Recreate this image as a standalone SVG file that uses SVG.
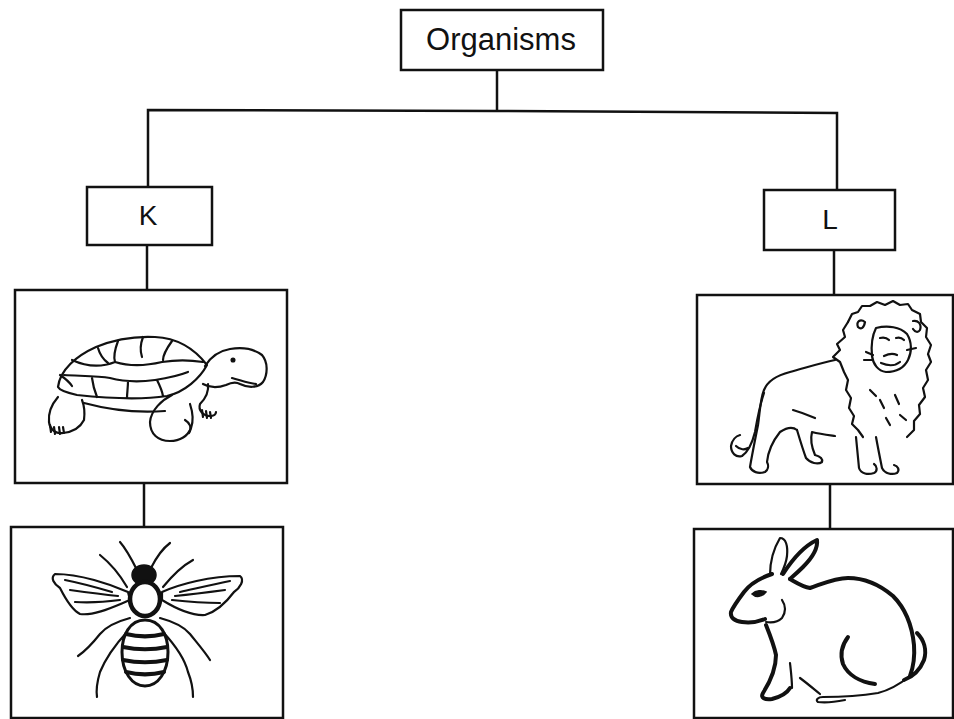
<svg xmlns="http://www.w3.org/2000/svg" width="954" height="719" viewBox="0 0 954 719">
<style>
.box{fill:#fff;stroke:#111;stroke-width:2.5}
.lbl{font-family:"Liberation Sans",Arial,sans-serif;fill:#111;text-anchor:middle}
.con{fill:none;stroke:#111;stroke-width:2.5}
.art{fill:none;stroke:#111;stroke-width:2.2;stroke-linejoin:round;stroke-linecap:round}
.thick{fill:none;stroke:#111;stroke-width:4;stroke-linejoin:round;stroke-linecap:round}
.dark{fill:#111;stroke:#111;stroke-width:1.5}
</style>
<rect width="954" height="719" fill="#fff"/>
<g id="connectors">
<polyline class="con" points="497,70 497,111"/>
<polyline class="con" points="148,187 148,110 497,111 837,113 837,190"/>
<line class="con" x1="147" y1="245" x2="147" y2="290"/>
<line class="con" x1="144" y1="483" x2="144" y2="527"/>
<line class="con" x1="834" y1="250" x2="834" y2="295"/>
<line class="con" x1="830" y1="484" x2="830" y2="529"/>
</g>
<g id="organisms">
<rect class="box" x="401" y="10" width="202" height="60"/>
<text class="lbl" x="501" y="50" font-size="31">Organisms</text>
</g>
<g id="k">
<rect class="box" x="87" y="187" width="125" height="58"/>
<text class="lbl" x="148" y="225" font-size="28">K</text>
</g>
<g id="l">
<rect class="box" x="764" y="190" width="131" height="60"/>
<text class="lbl" x="830" y="229" font-size="28">L</text>
</g>
<g id="tortoise">
<rect class="box" x="15" y="290" width="272" height="193"/>
<path class="art" d="M58,387 C60,370 76,356 96,347 C113,340 135,336 155,337 C176,338 194,348 207,365 C200,378 185,392 167,396 C140,400 105,398 77,395 C68,393 60,391 58,387 Z"/>
<path class="art" d="M72,360 C85,366 100,368 115,362 M98,348 C100,355 104,360 108,363 M118,341 C115,349 113,356 115,362 M143,337 C140,345 140,351 142,357 M172,341 C167,348 163,354 163,360 M115,362 C128,366 145,366 162,362 C175,360 190,360 203,362 M64,375 C80,376 98,376 110,378 M110,378 C125,382 140,382 155,380 C168,378 178,376 188,372 M92,378 C93,386 95,392 97,397 M128,381 C128,388 127,393 127,398 M157,380 C160,386 162,390 163,396 M60,375 C66,379 70,383 72,386"/>
<path class="art" d="M205,366 C210,358 218,351 230,349 C242,347 254,349 262,355 C268,362 268,374 263,382 C258,388 248,388 240,384 C235,381 230,383 226,385 C218,388 210,388 203,384"/>
<path class="art" d="M232,378 C240,380 248,383 256,384"/>
<circle class="dark" cx="233" cy="360" r="1.8"/>
<path class="art" d="M58,397 C52,404 48,412 49,422 C50,430 56,434 63,433 C72,432 80,428 84,420 C85,412 84,405 82,400"/>
<path class="art" d="M50,425 L51,432 M54,427 L55,434 M59,427 L60,434 M63,427 L64,433"/>
<path class="art" d="M84,403 C110,410 140,413 165,411"/>
<path class="art" d="M172,395 C162,400 151,410 150,422 C150,434 158,441 170,441 C180,441 188,436 191,428 C194,420 192,410 190,404"/>
<path class="art" d="M185,420 C190,423 192,428 189,433"/>
<path class="art" d="M208,384 C209,392 206,398 200,404 C198,410 203,416 210,416 C214,416 216,414 216,412"/>
<path class="art" d="M202,410 L203,417 M206,411 L207,418 M210,412 L211,418"/>
</g>
<g id="bee">
<rect class="box" x="11" y="527" width="272" height="191"/>
<path class="art" d="M137,570 C132,560 127,550 120,542 M151,568 C156,558 162,549 170,543"/>
<path class="art" d="M127,587 C120,575 110,563 100,555 M163,587 C172,576 182,566 193,560"/>
<path class="art" d="M128,592 C110,584 80,574 55,574 C50,578 54,584 60,588 C66,600 72,610 80,614 C95,616 115,606 130,600 Z"/>
<path class="art" d="M70,590 C85,592 100,594 118,596 M75,602 C90,603 105,602 120,600 M65,580 C80,583 95,587 112,592"/>
<path class="art" d="M162,592 C180,584 210,576 240,576 C245,580 240,588 234,592 C225,604 215,612 205,615 C190,616 175,608 162,600 Z"/>
<path class="art" d="M225,590 C210,592 195,594 175,596 M220,603 C205,603 190,602 172,600 M230,581 C215,584 198,588 180,592"/>
<ellipse class="dark" cx="144" cy="575" rx="12" ry="10"/>
<ellipse cx="145" cy="599" rx="15" ry="17" fill="#fff" stroke="#111" stroke-width="4.5"/>
<path class="art" d="M130,618 C115,622 105,628 100,634 C92,644 84,652 78,656 M160,618 C175,622 185,628 190,634 C198,644 205,652 210,660"/>
<path class="art" d="M127,632 C115,645 105,660 100,672 C97,682 96,690 97,697 M163,632 C175,645 185,660 188,672 C192,682 193,690 193,697"/>
<path d="M145,620 C160,620 168,635 168,652 C168,672 158,686 145,686 C132,686 122,672 122,652 C122,635 130,620 145,620 Z" fill="#fff" stroke="#111" stroke-width="3"/>
<path class="thick" d="M126,634 C138,637 152,637 164,634 M123,647 C137,650 153,650 167,647 M123,660 C137,663 153,663 167,660 M126,672 C138,675 152,675 164,672"/>
</g>
<g id="lion">
<rect class="box" x="697" y="295" width="256" height="189"/>
<path class="art" d="M848,322 L852,314 L858,312 L862,306 L870,306 L877,302 L885,305 L893,301 L900,305 L908,304 L912,310 L920,314 L921,322 L927,328 L926,337 L931,345 L928,354 L931,362 L926,370 L928,380 L923,388 L925,397 L919,405 L920,414 L914,421 L914,430 L907,437"/>
<path class="art" d="M848,322 L843,330 L845,337 L837,344 L840,350 L833,357 L840,362 L844,372 L848,380 L846,390 L851,398 L849,408 L854,416 L852,424 L858,430 L863,437"/>
<path class="art" d="M865,322 C860,318 856,322 858,327 C861,330 864,328 865,322 M913,321 C918,320 922,324 920,330 C918,333 915,332 913,329"/>
<path class="art" d="M876,328 C888,325 900,327 907,334 C912,342 912,352 908,360 C904,368 896,372 886,372 C878,371 873,364 872,356 C871,346 872,336 876,328 Z"/>
<path class="art" d="M880,338 C884,337 887,338 889,340 M896,338 C899,337 902,338 904,340 M884,356 C888,354 893,353 897,355 M881,363 C888,366 895,366 900,362 M866,352 L873,355 M864,360 L872,360 M907,350 L916,348"/>
<path class="art" d="M870,390 L876,396 M880,400 L884,408 M895,395 L899,404 M886,418 L890,425 M900,415 L906,420"/>
<path class="art" d="M835,360 C820,363 805,368 790,372 C778,375 768,380 764,390 C760,400 760,412 758,425 C755,440 752,455 750,467 C752,472 758,474 765,472 C768,470 769,466 767,462 C768,452 772,442 780,432 C786,428 792,426 797,430"/>
<path class="art" d="M797,430 C800,440 803,450 806,458 C810,463 818,465 822,462 C823,458 819,456 815,455 C812,448 810,440 812,432 C820,434 828,435 835,436"/>
<path class="art" d="M793,410 C800,412 808,415 815,418"/>
<path class="art" d="M856,437 C857,448 858,458 859,468 C861,474 868,475 874,473 C878,471 877,466 874,464 M876,437 C878,448 880,458 882,468 C885,474 892,475 897,473 C900,470 898,466 894,465"/>
<path class="art" d="M764,393 C760,405 757,420 755,432 C752,444 748,452 742,456 C736,458 731,453 731,446 C732,440 736,436 740,435"/>
<path class="art" d="M736,446 C740,450 745,450 748,448"/>
</g>
<g id="rabbit">
<rect class="box" x="694" y="529" width="259" height="189"/>
<path class="art" d="M770,575 C770,562 774,548 780,538 C786,538 788,546 787,556 C786,564 783,570 781,574"/>
<path class="thick" d="M783,574 C792,560 804,546 817,540 C818,548 812,558 803,567 C797,573 792,577 790,579"/>
<path class="thick" d="M790,579 C797,583 803,587 810,588 C822,584 835,578 848,578 C865,578 880,585 893,596 C905,608 912,625 914,645 C915,658 913,668 910,676"/>
<path class="thick" d="M772,574 C760,578 750,584 744,592 C738,600 733,607 731,612 C730,618 735,621 742,622 C750,623 758,622 765,619"/>
<path class="art" d="M782,600 C786,606 786,612 782,618 C778,622 772,623 766,622"/>
<path class="dark" d="M752,594 C756,590 762,590 766,592 C762,597 756,598 752,594 Z"/>
<path class="thick" d="M766,625 C770,635 774,645 776,655 C776,668 770,682 763,693 C760,698 765,700 772,699 C780,697 787,693 790,688"/>
<path class="thick" d="M917,633 C924,640 927,650 924,660 C920,670 912,677 904,680"/>
<path class="art" d="M910,676 C900,684 890,690 878,693 C860,696 840,697 823,697 C818,697 815,700 818,702 C825,703 835,702 845,700"/>
<path class="thick" d="M848,637 C842,645 840,655 843,664 C848,675 860,682 875,684"/>
<path class="art" d="M790,663 C791,672 792,680 792,688 M800,678 C808,684 815,690 820,694"/>
</g>
</svg>
